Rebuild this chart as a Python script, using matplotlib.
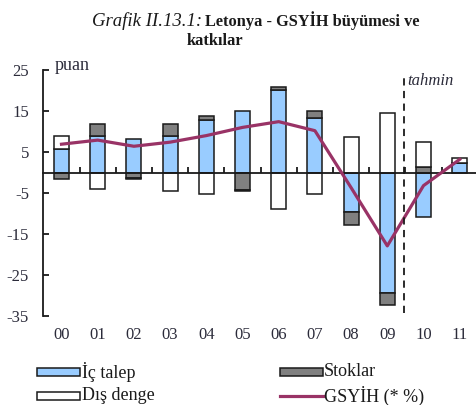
import matplotlib
matplotlib.use("Agg")
import matplotlib.pyplot as plt
import numpy as np
from matplotlib.patches import Rectangle
from matplotlib.lines import Line2D
import matplotlib.transforms as mtransforms

plt.rcParams['font.family'] = ['Liberation Serif', 'DejaVu Serif']

years = ['00', '01', '02', '03', '04', '05', '06', '07', '08', '09', '10', '11']
ic_talep = [5.7, 8.8, 8.2, 9.0, 12.9, 14.9, 20.2, 13.3, -9.6, -29.3, -10.8, 2.2]
stoklar = [-1.6, 3.1, -1.4, 2.9, 0.9, -4.3, 0.7, 1.6, -3.3, -3.1, 1.4, 0.0]
dis_denge = [3.3, -4.1, -0.2, -4.5, -5.2, -0.3, -8.8, -5.2, 8.6, 14.6, 6.0, 1.3]
gsyih = [6.9, 7.9, 6.4, 7.4, 9.0, 11.0, 12.4, 10.2, -3.7, -17.9, -3.2, 3.2]
yticks = [-35, -25, -15, -5, 5, 15, 25]

BLUE = '#99CCFF'
GREY = '#808080'
LINEC = '#993366'
TXT = '#2b2b3a'
FS_TICK = 12
FS_LEG = 13

fig = plt.figure(figsize=(4.76, 4.05), dpi=100)
W, H = 476, 405
ax = fig.add_axes([43 / W, 1 - 316 / H, 1 - 43 / W, 246 / H])

x = np.arange(len(years))
pos_bottom = np.zeros(len(years))
neg_bottom = np.zeros(len(years))
bw = 0.41
for vals, col in [(ic_talep, BLUE), (stoklar, GREY), (dis_denge, 'white')]:
    v = np.array(vals, dtype=float)
    bottoms = np.where(v >= 0, pos_bottom, neg_bottom)
    ax.bar(x, v, bw, bottom=bottoms, color=col, edgecolor='#1a1a1a',
           linewidth=1.1, zorder=2)
    pos_bottom = pos_bottom + np.where(v >= 0, v, 0)
    neg_bottom = neg_bottom + np.where(v < 0, v, 0)

ax.plot(x, gsyih, color=LINEC, linewidth=2.3, zorder=4, solid_joinstyle='round')

ax.set_xlim(-0.511, 11.45)
ax.set_ylim(-35, 25)

for s in ['top', 'right']:
    ax.spines[s].set_visible(False)
ax.spines['bottom'].set_position(('data', 0))
ax.spines['bottom'].set_linewidth(1.3)
ax.spines['bottom'].set_color('#1a1a1a')
ax.spines['bottom'].set_zorder(3)
ax.spines['left'].set_linewidth(1.3)
ax.spines['left'].set_color('#1a1a1a')

ax.set_xticks(x[:-1] + 0.5)
ax.set_xticklabels([])
ax.tick_params(axis='x', direction='in', length=4, width=1.3, color='#1a1a1a')
ax.set_yticks(yticks)
ax.set_yticklabels([str(t) for t in yticks], fontsize=FS_TICK, color=TXT)
ax.tick_params(axis='y', direction='in', length=4, width=1.3, color='#1a1a1a', pad=10)

trans = mtransforms.blended_transform_factory(ax.transData, ax.transAxes)
for xi, lab in zip(x, years):
    ax.text(xi, -0.078, lab, transform=trans, ha='center', va='center',
            fontsize=FS_TICK, color=TXT)

ax.axvline(9.45, ymin=0.012, ymax=0.976, color='#1a1a1a', linewidth=1.3,
           linestyle=(0, (4, 3)), zorder=5)
ax.text(9.55, 22.3, 'tahmin', fontsize=FS_TICK, style='italic', color=TXT,
        ha='left', va='center')
fig.text(55 / W, 1 - 66 / H, 'puan', fontsize=FS_LEG, color=TXT, ha='left', va='center')

# title
fig.text(202 / W, 1 - 26 / H, 'Grafik II.13.1:', fontsize=13.5, style='italic',
         ha='right', va='baseline', color='#1a1a1a')
fig.text(205 / W, 1 - 26 / H, 'Letonya - GSYİH büyümesi ve', fontsize=11.8,
         weight='bold', ha='left', va='baseline', color='#1a1a1a')
fig.text(187 / W, 1 - 45 / H, 'katkılar', fontsize=11.8, weight='bold',
         ha='left', va='baseline', color='#1a1a1a')

def patch(px, py, color):
    fig.add_artist(Rectangle((px / W, 1 - (py + 4) / H), 43 / W, 8 / H,
                             facecolor=color, edgecolor='#1a1a1a', linewidth=1.1,
                             transform=fig.transFigure))

patch(37, 372, BLUE)
fig.text(82 / W, 1 - 372 / H, 'İç talep', fontsize=FS_LEG, va='center', ha='left', color='#1a1a1a')
patch(37, 396, 'white')
fig.text(82 / W, 1 - 396 / H, 'Dış denge', fontsize=FS_LEG, va='center', ha='left', color='#1a1a1a')
patch(280, 372, GREY)
fig.text(324 / W, 1 - 372 / H, 'Stoklar', fontsize=FS_LEG, va='center', ha='left', color='#1a1a1a')
fig.add_artist(Line2D([280 / W, 323 / W], [1 - 396 / H, 1 - 396 / H], color=LINEC,
                      linewidth=2.3, transform=fig.transFigure))
fig.text(324 / W, 1 - 396 / H, 'GSYİH (* %)', fontsize=FS_LEG, va='center', ha='left', color='#1a1a1a')

fig.savefig('out.png', dpi=100)
